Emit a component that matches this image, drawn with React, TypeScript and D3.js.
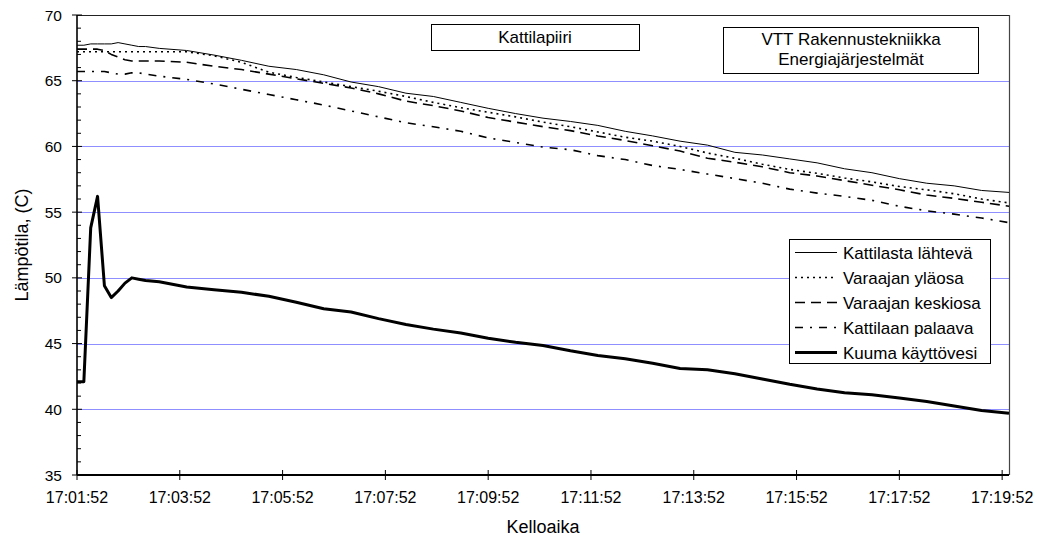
import React from "react";
import * as d3 from "d3";

// Sample times, seconds after 17:01:52
const sampleSeconds = [
  0, 8, 16, 24, 32, 40, 48, 56, 64, 72, 80,
  96, 128, 160, 192, 224, 256, 288, 320, 352, 384, 416, 448, 480, 512, 544,
  576, 608, 640, 672, 704, 736, 768, 800, 832, 864, 896, 928, 960, 992, 1024,
  1056, 1088,
];

const kattilastaLahteva = [
  67.7, 67.7, 67.8, 67.8, 67.8, 67.8, 67.9, 67.8, 67.7, 67.6, 67.6,
  67.46, 67.3, 66.95, 66.55, 66.1, 65.85, 65.45, 64.9, 64.55, 64.05, 63.8,
  63.35, 62.9, 62.5, 62.15, 61.9, 61.6, 61.15, 60.8, 60.4, 60.1, 59.55, 59.35,
  59.05, 58.75, 58.3, 58.0, 57.55, 57.2, 57.0, 56.65, 56.5,
];

const varaajanYlaosa = [
  67.2, 67.2, 67.2, 67.2, 67.2, 67.2, 67.2, 67.2, 67.2, 67.2, 67.2,
  67.2, 67.2, 66.9, 66.4, 65.65, 65.25, 64.9, 64.55, 64.2, 63.8, 63.35,
  62.95, 62.6, 62.25, 61.85, 61.5, 61.1, 60.7, 60.4, 60.0, 59.5, 59.1, 58.65,
  58.25, 57.95, 57.6, 57.3, 56.95, 56.7, 56.4, 56.0, 55.7,
];

const varaajanKeskiosa = [
  67.4, 67.4, 67.4, 67.4, 67.3, 67.0, 66.8, 66.6, 66.5, 66.5, 66.5,
  66.5, 66.4, 66.1, 65.85, 65.5, 65.15, 64.8, 64.45, 64.0, 63.45, 63.1,
  62.7, 62.2, 61.85, 61.5, 61.2, 60.8, 60.45, 60.05, 59.65, 59.1, 58.8, 58.45,
  58.0, 57.75, 57.4, 57.05, 56.7, 56.3, 56.05, 55.75, 55.45,
];

const kattilaanPalaava = [
  65.7, 65.7, 65.7, 65.7, 65.7, 65.6, 65.5, 65.5, 65.6, 65.6, 65.5,
  65.35, 65.1, 64.75, 64.35, 63.95, 63.55, 63.15, 62.7, 62.25, 61.8, 61.5,
  61.15, 60.65, 60.3, 59.95, 59.75, 59.3, 59.0, 58.55, 58.25, 57.9, 57.55, 57.2,
  56.75, 56.45, 56.2, 55.9, 55.45, 55.1, 54.85, 54.55, 54.2,
];

const kuumaKayttovesi = [
  42.1, 42.1, 53.8, 56.2, 49.4, 48.5, 49.0, 49.6, 50.0, 49.9, 49.8,
  49.7, 49.3, 49.1, 48.9, 48.6, 48.15, 47.65, 47.4, 46.9, 46.45, 46.1,
  45.8, 45.4, 45.1, 44.85, 44.45, 44.1, 43.85, 43.5, 43.1, 43.0, 42.7, 42.3,
  41.9, 41.55, 41.25, 41.1, 40.85, 40.6, 40.25, 39.9, 39.7,
];

const seriesNames = [
  "Kattilasta lähtevä",
  "Varaajan yläosa",
  "Varaajan keskiosa",
  "Kattilaan palaava",
  "Kuuma käyttövesi",
];

const timeTickLabels = [
  "17:01:52", "17:03:52", "17:05:52", "17:07:52", "17:09:52",
  "17:11:52", "17:13:52", "17:15:52", "17:17:52", "17:19:52",
];

const yTicks = [35, 40, 45, 50, 55, 60, 65, 70];
const gridValues = [40, 45, 50, 55, 60, 65];

const startTime = "17:01:52";
const endTime = "17:20:00";

const FONT = "'Liberation Sans', Arial, Helvetica, sans-serif";

const parseTime = d3.timeParse("%H:%M:%S");

const styles = [
  { width: 1, dash: "none" },
  { width: 1.6, dash: "2,4" },
  { width: 1.6, dash: "10,6" },
  { width: 1.6, dash: "8,7,2,7" },
  { width: 3, dash: "none" },
];

export default function App() {
  const W = 1042;
  const H = 545;
  const left = 77;
  const right = 1009;
  const top = 15;
  const bottom = 475;

  const t0 = parseTime(startTime)!;
  const t1 = parseTime(endTime)!;

  const x = d3.scaleTime().domain([t0, t1]).range([left, right]);
  const y = d3.scaleLinear().domain([35, 70]).range([bottom, top]);

  const times = sampleSeconds.map((s) => new Date(t0.getTime() + s * 1000));
  const allSeries = [
    kattilastaLahteva,
    varaajanYlaosa,
    varaajanKeskiosa,
    kattilaanPalaava,
    kuumaKayttovesi,
  ];

  const line = d3
    .line<[Date, number]>()
    .x((d) => x(d[0]))
    .y((d) => y(d[1]));

  const minorTicks = d3.range(35, 71, 1).filter((v) => v % 5 !== 0);
  const xTickDates = timeTickLabels.map((s) => parseTime(s)!);

  const legendX = 789;
  const legendY = 239;
  const legendRow = 25;

  return (
    <svg
      width={W}
      height={H}
      style={{ position: "absolute", left: 0, top: 0, display: "block", background: "#fff" }}
      fontFamily={FONT}
    >
      <rect x={0} y={0} width={W} height={H} fill="#fff" />

      {/* horizontal gridlines */}
      {gridValues.map((v) => (
        <line
          key={"g" + v}
          x1={left}
          x2={right}
          y1={Math.round(y(v)) + 0.5}
          y2={Math.round(y(v)) + 0.5}
          stroke="#8f8fff"
          strokeWidth={1}
        />
      ))}

      {/* plot border (top / right) */}
      <line x1={left} x2={right} y1={top + 0.5} y2={top + 0.5} stroke="#222" strokeWidth={1.2} />
      <line x1={right + 0.5} x2={right + 0.5} y1={top} y2={bottom} stroke="#444" strokeWidth={1.2} />

      {/* series */}
      {allSeries.map((vals, i) => (
        <path
          key={"s" + i}
          d={line(times.map((t, j) => [t, vals[j]] as [Date, number])) || ""}
          fill="none"
          stroke="#000"
          strokeWidth={styles[i].width}
          strokeDasharray={styles[i].dash}
          strokeLinejoin="round"
        />
      ))}

      {/* y axis */}
      <line x1={left} x2={left} y1={top} y2={bottom} stroke="#000" strokeWidth={1.6} />
      {minorTicks.map((v) => (
        <line key={"m" + v} x1={left} x2={left + 4} y1={y(v)} y2={y(v)} stroke="#000" strokeWidth={1} />
      ))}
      {yTicks.map((v) => (
        <g key={"y" + v}>
          <line x1={left - 5} x2={left + 5} y1={y(v)} y2={y(v)} stroke="#000" strokeWidth={1} />
          <text x={62} y={y(v) + 5.5} textAnchor="end" fontSize={15.5} fill="#000">
            {v}
          </text>
        </g>
      ))}

      {/* x axis */}
      <line x1={left} x2={right} y1={bottom} y2={bottom} stroke="#000" strokeWidth={2} />
      {xTickDates.map((d, i) => (
        <g key={"x" + i}>
          <line x1={x(d)} x2={x(d)} y1={bottom - 5} y2={bottom + 5} stroke="#000" strokeWidth={1} />
          <text x={x(d)} y={503} textAnchor="middle" fontSize={16} fill="#000">
            {timeTickLabels[i]}
          </text>
        </g>
      ))}

      {/* axis titles */}
      <text x={543} y={533} textAnchor="middle" fontSize={18} fill="#000">
        Kelloaika
      </text>
      <text
        transform={`translate(28,245) rotate(-90)`}
        textAnchor="middle"
        fontSize={18}
        fill="#000"
      >
        Lämpötila, (C)
      </text>

      {/* title boxes */}
      <rect x={431.5} y={24.5} width={208} height={26} fill="#fff" stroke="#000" strokeWidth={1} />
      <text x={535} y={43} textAnchor="middle" fontSize={17} fill="#000">
        Kattilapiiri
      </text>

      <rect x={723.5} y={27.5} width={255} height={46} fill="#fff" stroke="#000" strokeWidth={1} />
      <text x={851} y={45} textAnchor="middle" fontSize={17} fill="#000">
        VTT Rakennustekniikka
      </text>
      <text x={851} y={65} textAnchor="middle" fontSize={17} fill="#000">
        Energiajärjestelmät
      </text>

      {/* legend */}
      <rect x={legendX + 0.5} y={legendY + 0.5} width={201} height={124} fill="#fff" stroke="#000" strokeWidth={1} />
      {seriesNames.map((name, i) => {
        const cy = legendY + 13.5 + i * legendRow;
        return (
          <g key={"l" + i}>
            <line
              x1={legendX + 6}
              x2={legendX + 48}
              y1={cy}
              y2={cy}
              stroke="#000"
              strokeWidth={styles[i].width}
              strokeDasharray={styles[i].dash}
            />
            <text x={legendX + 54} y={cy + 6} fontSize={17} fill="#000">
              {name}
            </text>
          </g>
        );
      })}
    </svg>
  );
}
